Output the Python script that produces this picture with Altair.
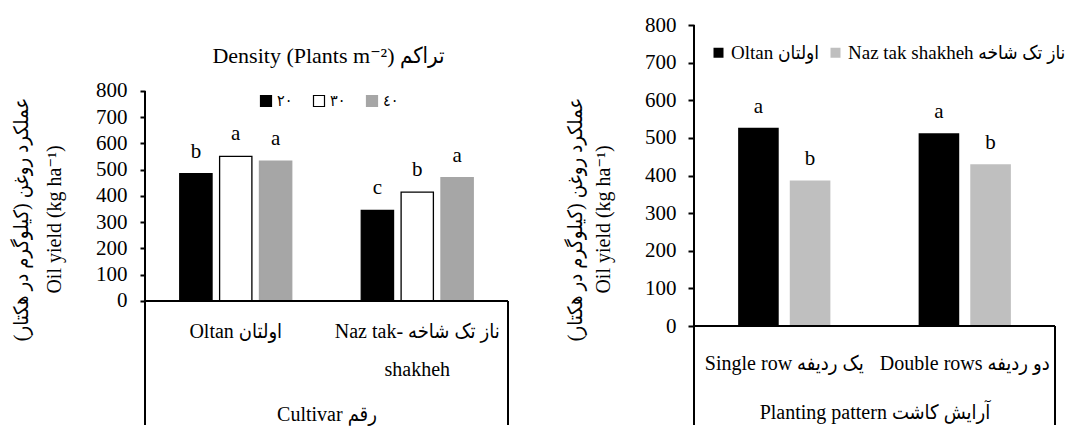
import altair as alt
import pandas as pd

FONT = "'Liberation Serif', 'Times New Roman', 'DejaVu Sans Condensed', serif"

# ---------------- data: left chart (cultivar x density) ----------------
cultivars = ["Oltan اولتان", "Naz tak- ناز تک شاخه|shakheh"]
densities = ["٢٠", "٣٠", "٤٠"]
yield_oltan = [485, 551, 533]
yield_naz = [345, 415, 470]
letters_oltan = ["b", "a", "a"]
letters_naz = ["c", "b", "a"]
density_colors = ["#000000", "#ffffff", "#a6a6a6"]
density_strokes = ["#000000", "#000000", "#a6a6a6"]

# ---------------- data: right chart (planting pattern x cultivar) ----------------
patterns = ["Single row یک ردیفه", "Double rows دو ردیفه"]
varieties = ["Oltan اولتان", "Naz tak shakheh ناز تک شاخه"]
yield_single = [527, 387]
yield_double = [512, 430]
letters_single = ["a", "b"]
letters_double = ["a", "b"]
variety_colors = ["#000000", "#bfbfbf"]

y_ticks = [0, 100, 200, 300, 400, 500, 600, 700, 800]
y_title = ["عملکرد روغن (کیلوگرم در هکتار)\u200f", "Oil yield (kg ha⁻¹)"]
left_title = "Density (Plants m⁻²) تراکم"

rows = []
for c, vals, lets in [(cultivars[0], yield_oltan, letters_oltan), (cultivars[1], yield_naz, letters_naz)]:
    for d, v, l in zip(densities, vals, lets):
        rows.append({"cultivar": c, "density": d, "value": v, "letter": l})
df_left = pd.DataFrame(rows)

rows = []
for p, vals, lets in [(patterns[0], yield_single, letters_single), (patterns[1], yield_double, letters_double)]:
    for c, v, l in zip(varieties, vals, lets):
        rows.append({"pattern": p, "variety": c, "value": v, "letter": l})
df_right = pd.DataFrame(rows)

H = 412


def y_axis(pad, tick, tpad, tlh):
    return alt.Axis(values=y_ticks, domain=False, grid=False, ticks=True, tickSize=tick,
                    tickWidth=2, tickColor="black", labelFont=FONT, labelFontSize=21,
                    labelColor="black", labelPadding=pad, title=y_title, titleFont=FONT,
                    titleFontSize=20, titleFontWeight="normal", titleColor="black",
                    titleLineHeight=tlh, titlePadding=tpad)


def box_rules(width, yscale):
    base = alt.Chart(pd.DataFrame({"k": [0]}))
    left = base.mark_rule(color="black", strokeWidth=2).encode(
        x=alt.value(0), y=alt.Y(datum=800, scale=yscale), y2=alt.value(H))
    bottom = base.mark_rule(color="black", strokeWidth=2).encode(
        y=alt.Y(datum=0, scale=yscale), x=alt.value(0), x2=alt.value(width))
    right = base.mark_rule(color="black", strokeWidth=2).encode(
        x=alt.value(width), y=alt.Y(datum=0, scale=yscale), y2=alt.value(H))
    return [left, bottom, right]


# ---------------- left chart ----------------
LW = 363
lscale = alt.Scale(domain=[-472.4, 1097.1], nice=False, zero=False)
lx = alt.X("cultivar:N", sort=cultivars,
           scale=alt.Scale(paddingInner=0.383, paddingOuter=0.1915),
           axis=alt.Axis(domain=False, ticks=False, grid=False, labelAngle=0, labelFont=FONT,
                         labelFontSize=20, labelColor="black", labelPadding=-104,
                         labelBaseline="top", labelLineHeight=38, labelLimit=0,
                         labelExpr="split(datum.label, '|')", title="Cultivar رقم",
                         titleFont=FONT, titleFontSize=20, titleFontWeight="normal",
                         titleColor="black", titleY=-11, titleBaseline="middle"))
lxo = alt.XOffset("density:N", sort=densities, scale=alt.Scale(paddingInner=0.19, paddingOuter=0))
leg = dict(orient="none", legendX=113, legendY=80, direction="horizontal", title=None,
           symbolType="square", symbolSize=121, symbolStrokeWidth=1.2, labelFont=FONT,
           labelFontSize=16, labelColor="black", columnPadding=18, labelOffset=3, padding=0)

lbars = alt.Chart(df_left).mark_bar(strokeWidth=1.3).encode(
    x=lx, xOffset=lxo,
    y=alt.Y("value:Q", scale=lscale, axis=y_axis(13, 5, 31, 33)),
    color=alt.Color("density:N", sort=densities,
                    scale=alt.Scale(domain=densities, range=density_colors), legend=alt.Legend(**leg)),
    stroke=alt.Stroke("density:N", sort=densities,
                      scale=alt.Scale(domain=densities, range=density_strokes), legend=alt.Legend(**leg)),
)
ltext = alt.Chart(df_left).mark_text(font=FONT, fontSize=21, color="black", baseline="middle", dy=-22).encode(
    x=alt.X("cultivar:N", sort=cultivars), xOffset=alt.XOffset("density:N", sort=densities),
    y=alt.Y("value:Q", scale=lscale), text="letter:N")
ltitle = alt.Chart(pd.DataFrame({"t": [left_title]})).mark_text(
    font=FONT, fontSize=22, color="black", baseline="middle").encode(
    x=alt.value(LW / 2 + 2), y=alt.value(43), text="t:N")

left = alt.layer(lbars, ltext, ltitle, *box_rules(LW, lscale)).properties(width=LW, height=H)

# ---------------- right chart ----------------
RW = 361
rscale = alt.Scale(domain=[-263.1, 831.9], nice=False, zero=False)
rx = alt.X("pattern:N", sort=patterns,
           scale=alt.Scale(paddingInner=0.489, paddingOuter=0.2445),
           axis=alt.Axis(domain=False, ticks=False, grid=False, labelAngle=0, labelFont=FONT,
                         labelFontSize=20, labelColor="black", labelPadding=-72,
                         labelBaseline="top", labelLimit=0, title="Planting pattern آرایش کاشت",
                         titleFont=FONT, titleFontSize=20, titleFontWeight="normal",
                         titleColor="black", titleY=-13, titleBaseline="middle"))
rxo = alt.XOffset("variety:N", sort=varieties, scale=alt.Scale(paddingInner=0.214, paddingOuter=0))

rbars = alt.Chart(df_right).mark_bar().encode(
    x=rx, xOffset=rxo,
    y=alt.Y("value:Q", scale=rscale, axis=y_axis(12, 6, 31, 28)),
    color=alt.Color("variety:N", sort=varieties,
                    scale=alt.Scale(domain=varieties, range=variety_colors),
                    legend=alt.Legend(orient="none", legendX=15, legendY=30, direction="horizontal",
                                      title=None, symbolType="square", symbolSize=100,
                                      labelFont=FONT, labelFontSize=19, labelColor="black",
                                      columnPadding=6, labelOffset=3, labelLimit=0, padding=0)),
)
rtext = alt.Chart(df_right).mark_text(font=FONT, fontSize=21, color="black", baseline="middle", dy=-21).encode(
    x=alt.X("pattern:N", sort=patterns), xOffset=alt.XOffset("variety:N", sort=varieties),
    y=alt.Y("value:Q", scale=rscale), text="letter:N")

right = alt.layer(rbars, rtext, *box_rules(RW, rscale)).properties(width=RW, height=H)

chart = alt.hconcat(left, right, spacing=186, bounds="flush").resolve_scale(
    color="independent", stroke="independent", x="independent", y="independent",
    xOffset="independent"
).resolve_legend(color="independent", stroke="independent").properties(
    padding={"left": 3, "top": 4, "right": 0, "bottom": 0}
).configure_view(stroke="transparent")

chart.save("out.html", embed_options={"renderer": "svg", "actions": False})
